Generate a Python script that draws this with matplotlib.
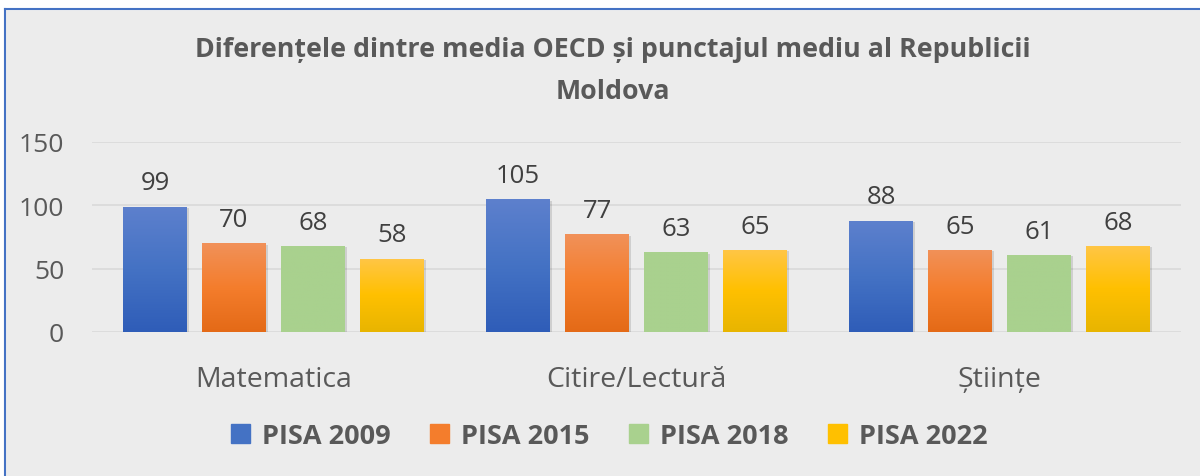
import matplotlib.pyplot as plt
import numpy as np
from matplotlib.colors import LinearSegmentedColormap
from matplotlib.patches import Rectangle

plt.rcParams['font.family'] = ['Open Sans', 'DejaVu Sans']

categories = ["Matematica", "Citire/Lectură", "Științe"]
series = ["PISA 2009", "PISA 2015", "PISA 2018", "PISA 2022"]
pisa_2009 = [99, 105, 88]
pisa_2015 = [70, 77, 65]
pisa_2018 = [68, 63, 61]
pisa_2022 = [58, 65, 68]
values = [pisa_2009, pisa_2015, pisa_2018, pisa_2022]

# top -> bottom gradient colours
gradients = [
    ["#5d80cd", "#4472c4", "#2f5db8"],
    ["#f19159", "#f47d2c", "#e46a17"],
    ["#a9d18e", "#a9d18e", "#a9d18e"],
    ["#ffc646", "#ffc000", "#e8b500"],
]
legend_colors = ["#4472c4", "#f47d2c", "#a9d18e", "#ffc000"]

bg = "#ececec"
text_col = "#595959"

fig = plt.figure(figsize=(12, 4.77), dpi=100, facecolor=bg)
ax = fig.add_axes([92 / 1200, 1 - 333 / 477, 1089 / 1200, 190 / 477])
ax.set_facecolor(bg)

x = np.arange(len(categories))
step = 0.2176
width = 0.176
offsets = (np.arange(4) - 1.5) * step

for i, (vals, grad) in enumerate(zip(values, gradients)):
    cmap = LinearSegmentedColormap.from_list("g%d" % i, grad[::-1])
    bars = ax.bar(x + offsets[i], vals, width, color=legend_colors[i], zorder=3,
                  label=series[i])
    for b, v in zip(bars, vals):
        x0 = b.get_x()
        # soft shadow
        ax.add_patch(Rectangle((x0 + 0.006, -1.2), b.get_width(), v, color="#000000",
                               alpha=0.12, zorder=2, lw=0))
        img = ax.imshow(np.linspace(0, 1, 100).reshape(-1, 1), cmap=cmap,
                        extent=[x0, x0 + b.get_width(), 0, v], origin="lower",
                        aspect="auto", zorder=3.5)
        img.set_clip_path(b)
        ax.annotate(str(v), (b.get_x() + b.get_width() / 2, v), xytext=(0, 8),
                    textcoords="offset points", ha="center", va="bottom",
                    fontsize=18.5, color="#404040")

ax.set_xlim(-0.5, 2.5)
ax.set_ylim(0, 150)
ax.set_yticks([0, 50, 100, 150])
ax.grid(axis="y", color="#d9d9d9", lw=1.2, zorder=0)
ax.set_xticks(x)
ax.set_xticklabels(categories)
ax.tick_params(axis="x", length=0, pad=24, labelsize=20.5, labelcolor=text_col)
ax.tick_params(axis="y", length=0, pad=20, labelsize=19, labelcolor=text_col)
for s in ax.spines.values():
    s.set_visible(False)

fig.text(613 / 1200, 1 - 50 / 477,
         "Diferențele dintre media OECD și punctajul mediu al Republicii",
         ha="center", va="center", fontsize=19.3, fontweight="bold", color=text_col)
fig.text(613 / 1200, 1 - 92 / 477, "Moldova",
         ha="center", va="center", fontsize=19.3, fontweight="bold", color=text_col)

handles = [Rectangle((0, 0), 1, 1, color=c) for c in legend_colors]
fig.legend(handles, series, loc="center", bbox_to_anchor=(609 / 1200, 1 - 437 / 477),
           ncol=4, frameon=False, handlelength=0.7, handleheight=0.7,
           columnspacing=1.45, handletextpad=0.45,
           prop={"size": 19.5, "weight": "bold"}, labelcolor=text_col)

# outer border (top and left visible)
fig.add_artist(plt.Line2D([5 / 1200, 5 / 1200], [0, 1 - 10 / 477], color="#4472c4",
                          lw=1.5, transform=fig.transFigure))
fig.add_artist(plt.Line2D([5 / 1200, 1], [1 - 10 / 477, 1 - 10 / 477], color="#4472c4",
                          lw=1.5, transform=fig.transFigure))
fig.patches.append(Rectangle((0, 1 - 10 / 477), 1, 10 / 477, color="white",
                             transform=fig.transFigure, zorder=-1))
fig.patches.append(Rectangle((0, 0), 5 / 1200, 1, color="white",
                             transform=fig.transFigure, zorder=-1))

fig.savefig("out.png", dpi=100, facecolor=bg)
